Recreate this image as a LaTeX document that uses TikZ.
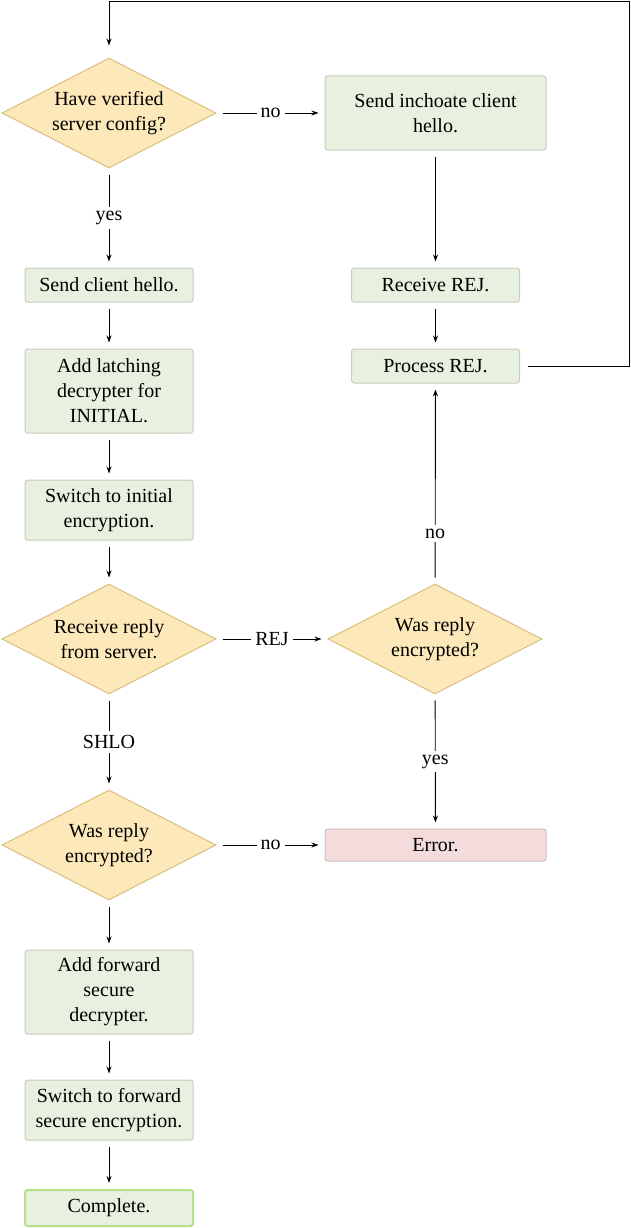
\documentclass[tikz,border=0pt]{standalone}
\usepackage{fontspec}
\setmainfont{Liberation Serif}
\usetikzlibrary{shapes.geometric,arrows.meta}
\definecolor{boxfill}{HTML}{E8F0E0}
\definecolor{boxdraw}{HTML}{C8CCC0}
\definecolor{dfill}{HTML}{FCE8B8}
\definecolor{ddraw}{HTML}{D9BE80}
\definecolor{efill}{HTML}{F5DCDC}
\definecolor{edraw}{HTML}{D2BCBC}
\definecolor{cdraw}{HTML}{B8E08A}
\tikzset{
  txt/.style={font=\fontsize{20}{25}\selectfont, align=center},
  box/.style={txt, rectangle, rounded corners=2.5pt, fill=boxfill, draw=boxdraw, line width=1pt, minimum width=168pt, inner sep=0pt},
  bigbox/.style={box, minimum width=221pt},
  dec/.style={txt, diamond, fill=dfill, draw=ddraw, line width=1pt, minimum width=214pt, minimum height=110pt, inner sep=0pt, aspect=1.95},
  arr/.style={-{Stealth[length=7pt,width=5pt]}, line width=0.9pt, shorten >=6pt, shorten <=6pt},
  lbl/.style={txt, fill=white, inner sep=4pt}
}
\begin{document}
\begin{tikzpicture}[x=1pt,y=-1pt]
\useasboundingbox (0,0) rectangle (631,1228);
\node[dec] (d1) at (109,113) {Have verified\\server config?};
\node[bigbox, minimum height=74pt] (inch) at (435.5,113) {Send inchoate client\\hello.};
\node[box, minimum height=34pt] (rrej) at (435.5,285) {Receive REJ.};
\node[box, minimum height=34pt] (prej) at (435.5,366) {Process REJ.};
\node[box, minimum height=34pt] (sch) at (109,285) {Send client hello.};
\node[box, minimum height=84pt] (latch) at (109,391) {Add latching\\decrypter for\\INITIAL.};
\node[box, minimum height=60pt] (swi) at (109,510) {Switch to initial\\encryption.};
\node[dec] (d2) at (109,639) {Receive reply\\from server.};
\node[dec] (d3) at (435,639) {Was reply\\encrypted?};
\node[bigbox, minimum height=32pt, fill=efill, draw=edraw] (err) at (435.5,845) {Error.};
\node[dec] (d4) at (109,845) {Was reply\\encrypted?};
\node[box, minimum height=84pt] (fwd) at (109,992) {Add forward\\secure\\decrypter.};
\node[box, minimum height=60pt] (swf) at (109,1110) {Switch to forward\\secure encryption.};
\node[box, minimum height=36pt, draw=cdraw, line width=2pt] (comp) at (109,1208) {Complete.};
\coordinate (c1) at (629.5,1);
\draw[arr] (d1) -- node[lbl]{no} (inch);
\draw[arr] (inch) -- (rrej);
\draw[arr] (rrej) -- (prej);
\draw[arr, shorten <=8pt, shorten >=12pt] (prej.east) -| (c1) -| (d1.north);
\draw[arr] (d1) -- node[lbl]{yes} (sch);
\draw[arr] (sch) -- (latch);
\draw[arr] (latch) -- (swi);
\draw[arr] (swi) -- (d2);
\draw[arr] (d2) -- node[lbl]{REJ} (d3);
\draw[arr] (d3) -- node[lbl, pos=0.25]{no} (prej);
\draw[arr] (d3) -- node[lbl]{yes} (err);
\draw[arr] (d2) -- node[lbl]{SHLO} (d4);
\draw[arr] (d4) -- node[lbl]{no} (err);
\draw[arr] (d4) -- (fwd);
\draw[arr] (fwd) -- (swf);
\draw[arr] (swf) -- (comp);
\end{tikzpicture}
\end{document}
